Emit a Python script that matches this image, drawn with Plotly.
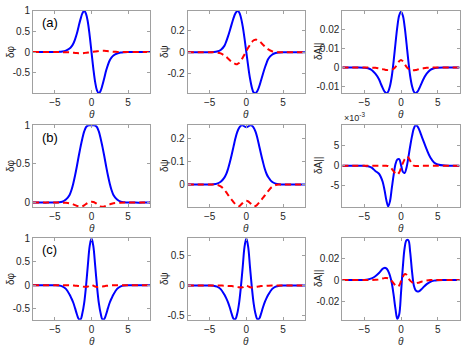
import plotly.graph_objects as go

# shared theta grid
theta = [-8, -7, -6, -5, -4.5, -4, -3.5, -3, -2.75, -2.5, -2.25, -2, -1.75, -1.5, -1.25,
         -1, -0.75, -0.5, -0.25, 0, 0.25, 0.5, 0.75, 1, 1.25, 1.5, 1.75, 2, 2.25, 2.5,
         2.75, 3, 3.5, 4, 4.5, 5, 6, 7, 8]

# row (a)
a_phi_blue = [0, 0, 0, 0.001, 0.004, 0.012, 0.035, 0.085, 0.13, 0.2, 0.31, 0.45, 0.63, 0.8, 0.94,
              1.0, 0.93, 0.73, 0.4, 0, -0.4, -0.73, -0.93, -1.0, -0.94, -0.8, -0.63, -0.45, -0.31, -0.2,
              -0.13, -0.085, -0.035, -0.012, -0.004, -0.001, 0, 0, 0]
a_phi_red = [0, 0, 0, 0, 0, -0.002, -0.005, -0.008, -0.012, -0.016, -0.02, -0.024, -0.027, -0.028, -0.027,
             -0.024, -0.018, -0.012, -0.006, 0, 0.007, 0.014, 0.02, 0.026, 0.03, 0.031, 0.03, 0.027, 0.022, 0.017,
             0.012, 0.008, 0.004, 0.001, 0, 0, 0, 0, 0]
a_psi_blue = [0, 0, 0, 0, 0.002, 0.007, 0.022, 0.06, 0.1, 0.148, 0.203, 0.262, 0.318, 0.36, 0.383,
              0.374, 0.326, 0.243, 0.129, 0, -0.129, -0.243, -0.326, -0.374, -0.381, -0.36, -0.318, -0.262, -0.203, -0.148,
              -0.1, -0.06, -0.022, -0.007, -0.002, 0, 0, 0, 0]
a_psi_red = [0, 0, 0, 0, 0, -0.002, -0.01, -0.03, -0.042, -0.058, -0.074, -0.088, -0.1, -0.108, -0.11,
             -0.1, -0.08, -0.05, -0.02, 0.012, 0.042, 0.07, 0.095, 0.112, 0.118, 0.115, 0.105, 0.09, 0.072, 0.055,
             0.04, 0.027, 0.01, 0.003, 0, 0, 0, 0, 0]
a_apar_blue = [0, 0, 0, -0.0001, -0.0004, -0.0013, -0.0033, -0.0062, -0.0086, -0.0108, -0.0127, -0.0136, -0.0128, -0.0098, -0.0045,
               0.0035, 0.0128, 0.0215, 0.0275, 0.0295, 0.0275, 0.0215, 0.0128, 0.0035, -0.0045, -0.0098, -0.0128, -0.0136, -0.0128, -0.011,
               -0.0088, -0.0066, -0.0033, -0.0013, -0.0004, -0.0001, 0, 0, 0]
a_apar_red = [0, 0, 0, 0, 0, -0.0001, -0.0002, -0.0005, -0.0007, -0.0009, -0.0011, -0.0013, -0.0014, -0.0014, -0.0012,
              -0.0007, 0.0003, 0.0018, 0.0033, 0.004, 0.0033, 0.0018, 0.0003, -0.0007, -0.0012, -0.0014, -0.0014, -0.0013, -0.0011, -0.0009,
              -0.0007, -0.0005, -0.0002, -0.0001, 0, 0, 0, 0, 0]

# row (b)
b_phi_blue = [0, 0, 0, 0.001, 0.004, 0.012, 0.04, 0.1, 0.16, 0.245, 0.35, 0.47, 0.6, 0.72, 0.83,
              0.92, 0.975, 0.997, 1.0, 0.998, 1.0, 0.997, 0.975, 0.92, 0.83, 0.72, 0.6, 0.47, 0.35, 0.245,
              0.16, 0.1, 0.04, 0.012, 0.004, 0.001, 0, 0, 0]
b_phi_red = [0, 0, 0, 0, 0, -0.001, -0.003, -0.008, -0.014, -0.022, -0.032, -0.042, -0.05, -0.053, -0.048,
             -0.035, -0.018, -0.002, 0.008, 0.011, 0.008, -0.002, -0.018, -0.035, -0.048, -0.053, -0.05, -0.042, -0.032, -0.022,
             -0.014, -0.008, -0.003, -0.001, 0, 0, 0, 0, 0]
b_psi_blue = [0, 0, 0, 0, 0.001, 0.004, 0.012, 0.03, 0.045, 0.068, 0.097, 0.13, 0.165, 0.2, 0.228,
              0.246, 0.256, 0.258, 0.253, 0.249, 0.253, 0.258, 0.256, 0.247, 0.23, 0.203, 0.168, 0.133, 0.1, 0.07,
              0.047, 0.032, 0.012, 0.004, 0.001, 0, 0, 0, 0]
b_psi_red = [0, 0, 0, 0, 0, -0.001, -0.008, -0.022, -0.033, -0.045, -0.056, -0.066, -0.076, -0.085, -0.092,
             -0.094, -0.088, -0.08, -0.073, -0.07, -0.073, -0.08, -0.088, -0.094, -0.093, -0.087, -0.078, -0.068, -0.058, -0.048,
             -0.037, -0.027, -0.01, -0.002, 0, 0, 0, 0, 0]
b_apar_blue = [0, 0, 0, -0.00005, -0.00015, -0.0005, -0.0013, -0.002, -0.0028, -0.004, -0.006, -0.0085, -0.0101, -0.0088, -0.0055,
               -0.0023, 0.0004, 0.0015, 0.0016, 0.0002, -0.0015, -0.0018, -0.0005, 0.002, 0.0048, 0.0073, 0.0092, 0.01, 0.0097, 0.0088,
               0.0076, 0.0064, 0.004, 0.002, 0.0008, 0.0003, 0.00002, 0, 0]
b_apar_red = [0, 0, 0, 0, 0, 0, 0, 0, 0, 0, 0, 0, -0.0001, -0.0003, -0.0008,
              -0.0014, -0.002, -0.0022, -0.0017, -0.0006, 0.0006, 0.0016, 0.0022, 0.002, 0.0012, 0.0004, 0, -0.0001, -0.0001, -0.00005,
              0, 0, 0, 0, 0, 0, 0, 0, 0]

# row (c)
c_phi_blue = [0, 0, 0, -0.002, -0.007, -0.025, -0.08, -0.2, -0.28, -0.37, -0.49, -0.62, -0.72, -0.73, -0.6,
              -0.38, -0.02, 0.42, 0.83, 1.0, 0.83, 0.42, -0.02, -0.38, -0.6, -0.73, -0.72, -0.62, -0.49, -0.37,
              -0.28, -0.2, -0.08, -0.025, -0.007, -0.002, 0, 0, 0]
c_phi_red = [0, 0, 0, 0, 0, 0, -0.001, -0.003, -0.005, -0.008, -0.011, -0.015, -0.02, -0.025, -0.03,
             -0.035, -0.035, -0.03, -0.012, 0.005, -0.01, -0.03, -0.04, -0.04, -0.035, -0.03, -0.022, -0.015, -0.011, -0.008,
             -0.005, -0.003, -0.001, 0, 0, 0, 0, 0, 0]
c_psi_blue = [0, 0, 0, -0.001, -0.005, -0.02, -0.06, -0.15, -0.21, -0.28, -0.37, -0.47, -0.55, -0.56, -0.47,
              -0.3, -0.03, 0.3, 0.64, 0.78, 0.64, 0.3, -0.03, -0.3, -0.47, -0.56, -0.55, -0.47, -0.37, -0.28,
              -0.21, -0.15, -0.06, -0.02, -0.005, -0.001, 0, 0, 0]
c_psi_red = [0, 0, 0, 0, 0, 0, -0.001, -0.003, -0.005, -0.007, -0.009, -0.01, -0.015, -0.02, -0.025,
             -0.03, -0.032, -0.03, -0.015, 0, -0.015, -0.03, -0.032, -0.03, -0.025, -0.02, -0.015, -0.01, -0.009, -0.007,
             -0.005, -0.003, -0.001, 0, 0, 0, 0, 0, 0]
c_apar_blue = [0, 0, 0, 0.0001, 0.0005, 0.0015, 0.0035, 0.0065, 0.0085, 0.0105, 0.0113, 0.0108, 0.0085, 0.004, -0.003,
               -0.014, -0.027, -0.036, -0.032, -0.012, 0.012, 0.03, 0.037, 0.037, 0.026, 0.008, -0.005, -0.0095, -0.0106, -0.0102,
               -0.0088, -0.007, -0.0038, -0.0016, -0.0005, -0.0001, 0, 0, 0]
c_apar_red = [0, 0, 0, 0, 0, 0, 0.0002, 0.0005, 0.001, 0.0015, 0.0018, 0.002, 0.0017, 0.001, -0.001,
              -0.003, -0.005, -0.006, -0.005, -0.001, 0.003, 0.0055, 0.005, 0.002, -0.0005, -0.002, -0.003, -0.003, -0.0026, -0.0022,
              -0.0016, -0.001, -0.0003, 0, 0, 0, 0, 0, 0]

panels = [
    [(a_phi_blue, a_phi_red), (a_psi_blue, a_psi_red), (a_apar_blue, a_apar_red)],
    [(b_phi_blue, b_phi_red), (b_psi_blue, b_psi_red), (b_apar_blue, b_apar_red)],
    [(c_phi_blue, c_phi_red), (c_psi_blue, c_psi_red), (c_apar_blue, c_apar_red)],
]
y_ranges = [
    [[-1.0, 1.0], [-0.38, 0.385], [-0.0136, 0.0299]],
    [[-0.055, 1.0], [-0.097, 0.258], [-0.0102, 0.0100]],
    [[-0.74, 1.0], [-0.57, 0.784], [-0.0369, 0.0388]],
]
y_ticks = [
    [[-0.5, 0, 0.5, 1], [-0.2, 0, 0.2], [-0.01, 0, 0.01, 0.02]],
    [[0, 0.5, 1], [0, 0.1, 0.2], [-0.005, 0, 0.005]],
    [[-0.5, 0, 0.5, 1], [-0.5, 0, 0.5], [-0.02, 0, 0.02]],
]
y_ticktext = [
    [['-0.5', '0', '0.5', '1'], ['-0.2', '0', '0.2'], ['-0.01', '0', '0.01', '0.02']],
    [['0', '0.5', '1'], ['0', '0.1', '0.2'], ['-5', '0', '5']],
    [['-0.5', '0', '0.5', '1'], ['-0.5', '0', '0.5'], ['-0.02', '0', '0.02']],
]
y_titles = ['δφ', 'δψ', 'δA||']
row_tags = ['(a)', '(b)', '(c)']

W, H = 463, 348
col_px = [(33, 150), (187.7, 305), (342.3, 459.7)]
row_px = [(5, 89), (121.7, 205), (237, 320.3)]
ylab_px = [10, 164, 318]

axis_color = '#a0a0a0'
text_color = '#262626'
font = 'Liberation Sans, Arial, sans-serif'

fig = go.Figure()
annotations = []
n = 0
for r in range(3):
    for c in range(3):
        n += 1
        sfx = '' if n == 1 else str(n)
        blue, red = panels[r][c]
        fig.add_trace(go.Scatter(x=theta, y=blue, mode='lines', line=dict(color='#0000ff', width=2, shape='spline'),
                                 xaxis='x' + sfx, yaxis='y' + sfx, showlegend=False))
        fig.add_trace(go.Scatter(x=theta, y=red, mode='lines',
                                 line=dict(color='#ff0000', width=2, dash='6px,4px', shape='spline'),
                                 xaxis='x' + sfx, yaxis='y' + sfx, showlegend=False))
        x0, x1 = col_px[c]
        y0, y1 = row_px[r]
        common = dict(showline=True, linecolor=axis_color, linewidth=1, mirror='ticks', ticks='inside',
                      ticklen=3, tickcolor=axis_color, showgrid=False, zeroline=False,
                      tickfont=dict(family=font, size=10, color=text_color))
        fig.update_layout(**{
            'xaxis' + sfx: dict(domain=[x0 / W, x1 / W], range=[-8, 8], tickvals=[-5, 0, 5],
                                anchor='y' + sfx, ticklabelstandoff=0, **common),
            'yaxis' + sfx: dict(domain=[1 - y1 / H, 1 - y0 / H], range=y_ranges[r][c],
                                tickvals=y_ticks[r][c], ticktext=y_ticktext[r][c],
                                anchor='x' + sfx, **common),
        })
        # theta label
        annotations.append(dict(x=(x0 + x1) / 2 / W, y=1 - (y1 + 14) / H, xref='paper', yref='paper',
                                text='<i>θ</i>', showarrow=False, xanchor='center', yanchor='top', height=11,
                                font=dict(family=font, size=10, color=text_color)))
        # y label
        annotations.append(dict(x=ylab_px[c] / W, y=1 - (y0 + y1) / 2 / H, xref='paper', yref='paper',
                                text=y_titles[c], textangle=-90, showarrow=False,
                                xanchor='center', yanchor='middle',
                                font=dict(family=font, size=10, color=text_color)))
    annotations.append(dict(x=(col_px[0][0] + 7) / W, y=1 - (row_px[r][0] + 12) / H, xref='paper', yref='paper',
                            text=row_tags[r], showarrow=False, xanchor='left', yanchor='middle',
                            font=dict(family=font, size=13, color='black')))

annotations.append(dict(x=342 / W, y=1 - 113 / H, xref='paper', yref='paper', text='×10<sup>-3</sup>',
                        showarrow=False, xanchor='left', yanchor='middle',
                        font=dict(family=font, size=9, color=text_color)))

fig.update_layout(width=W, height=H, margin=dict(l=0, r=0, t=0, b=0),
                  paper_bgcolor='white', plot_bgcolor='white', annotations=annotations)

fig.write_html("out.html", config={'displayModeBar': False},
               post_script="document.body.style.margin='0';document.body.style.overflow='hidden';")
